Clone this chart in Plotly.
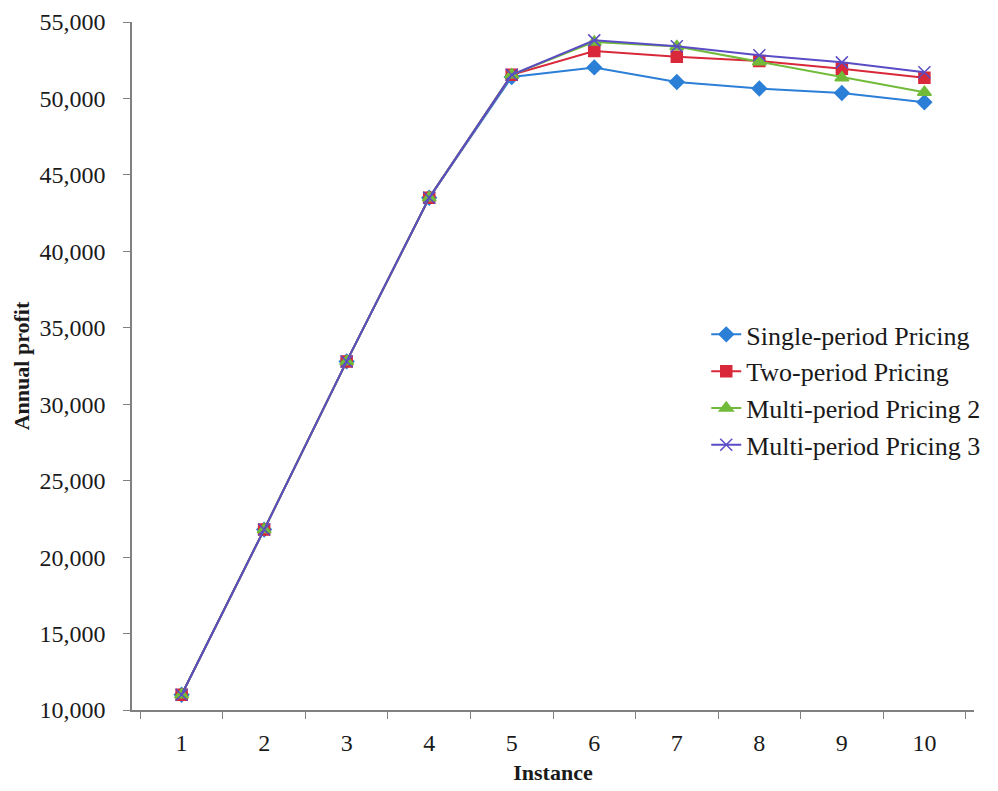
import plotly.graph_objects as go

instances = ["1", "2", "3", "4", "5", "6", "7", "8", "9", "10"]

single_period = [11000, 21800, 32800, 43500, 51400, 52030, 51080, 50650, 50360, 49750]
two_period = [11000, 21800, 32800, 43500, 51550, 53100, 52720, 52450, 51950, 51350]
multi_period_2 = [11000, 21800, 32800, 43500, 51550, 53700, 53400, 52400, 51350, 50400]
multi_period_3 = [11000, 21800, 32800, 43500, 51550, 53800, 53420, 52820, 52360, 51710]

series = [
    ("Single-period Pricing", single_period, "#2b7fd6", "diamond", 11),
    ("Two-period Pricing", two_period, "#d8283a", "square", 11),
    ("Multi-period Pricing 2", multi_period_2, "#72bb3a", "triangle-up", 12),
    ("Multi-period Pricing 3", multi_period_3, "#5a4cc4", "x-thin", 12),
]

fig = go.Figure()
for name, vals, color, symbol, size in series:
    fig.add_trace(go.Scatter(
        x=instances, y=vals, name=name, mode="lines+markers",
        line=dict(color=color, width=2),
        marker=dict(symbol=symbol, size=size, color=color,
                    line=dict(color=color, width=1.5)),
    ))

font_family = "'Liberation Serif', 'Times New Roman', serif"

fig.update_layout(
    width=998, height=791,
    margin=dict(l=132, r=24, t=22, b=81),
    paper_bgcolor="white", plot_bgcolor="white",
    font=dict(family=font_family, size=24, color="#1a1a1a"),
    showlegend=True,
    legend=dict(
        x=0.682, y=0.58, xanchor="left", yanchor="top",
        bgcolor="rgba(0,0,0,0)", font=dict(size=26, family=font_family),
        tracegroupgap=0, itemwidth=30,
    ),
)

fig.update_xaxes(
    type="category", tickson="boundaries", automargin=False,
    showline=True, linecolor="#808080", linewidth=1.5,
    ticks="outside", ticklen=7, tickcolor="#808080",
    showgrid=False, zeroline=False, ticklabelstandoff=10,
    tickfont=dict(size=24, family=font_family),
    title=dict(text="<b>Instance</b>", font=dict(size=22, family=font_family), standoff=10),
)

fig.update_yaxes(
    range=[10000, 55000], dtick=5000, tickformat=",", automargin=False,
    showline=True, linecolor="#808080", linewidth=1.5,
    ticks="outside", ticklen=7, tickcolor="#808080",
    showgrid=False, zeroline=False, ticklabelstandoff=13,
    tickfont=dict(size=24, family=font_family),
    title=dict(text="<b>Annual profit</b>", font=dict(size=22, family=font_family), standoff=4),
)

fig.write_html("out.html")
